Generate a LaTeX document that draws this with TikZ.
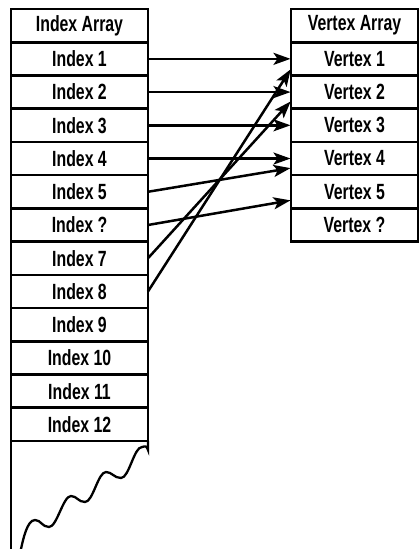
\documentclass[tikz,border=0pt]{standalone}
\usepackage{fontspec}
\setmainfont{Liberation Sans}[FakeStretch=0.72]
\usetikzlibrary{arrows.meta,calc}
\begin{document}
\begin{tikzpicture}[x=1pt,y=-1pt,
  cell/.style={draw, line width=2.6pt, minimum width=137pt, minimum height=33.23pt,
    inner sep=0pt, outer sep=0pt, anchor=north west,
    font=\bfseries\fontsize{22}{22}\selectfont},
  edge/.style={line width=2.6pt},
  link/.style={line width=2.5pt, shorten >=0.5pt, -{Stealth[length=17pt,width=12pt,inset=4pt]}}]
\useasboundingbox (0,0) rectangle (420,549);
% left array
\foreach \t [count=\i from 0] in {Index Array,Index 1,Index 2,Index 3,Index 4,Index 5,Index ?,Index 7,Index 8,Index 9,Index 10,Index 11,Index 12}
  \node[cell] (L\i) at (11,{9+33.23*\i}) {\t};
% right array
\foreach \t [count=\i from 0] in {Vertex Array,Vertex 1,Vertex 2,Vertex 3,Vertex 4,Vertex 5,Vertex ?}
  \node[cell, minimum width=127pt] (R\i) at (291,{9+33.23*\i}) {\t};
% open bottom of the left array
\coordinate (bl) at (11,549);
\draw[edge] (L12.south west) -- (bl);
\draw[edge, line width=2.3pt] (L12.south east) -- ++(0,9) coordinate (w0)
  .. controls (147,446) and (145,446) .. (142,447)
  .. controls (134,447) and (129,478) .. (121,478)
  .. controls (114,478) and (112,472) .. (106,472)
  .. controls (98,472) and (93,502) .. (85,502)
  .. controls (78,502) and (77,496) .. (71,496)
  .. controls (63,496) and (57,527) .. (49,527)
  .. controls (42,527) and (41,520) .. (35,520)
  .. controls (27,520) and (23,540) .. (21,549);
% links
\draw[link] (L1.east) -- (R1.west);
\draw[link] (L2.east) -- (R2.west);
\draw[link] (L3.east) -- (R3.west);
\draw[link] (L4.east) -- (R4.west);
\draw[link] (L5.east) -- ([yshift=-9.5pt]R4.west);
\draw[link] (L6.east) -- ([yshift=-8.5pt]R5.west);
\draw[link] (L7.east) -- ([yshift=-9pt]R2.west);
\draw[link] (L8.east) -- ([yshift=-10pt]R1.west);
\end{tikzpicture}
\end{document}
